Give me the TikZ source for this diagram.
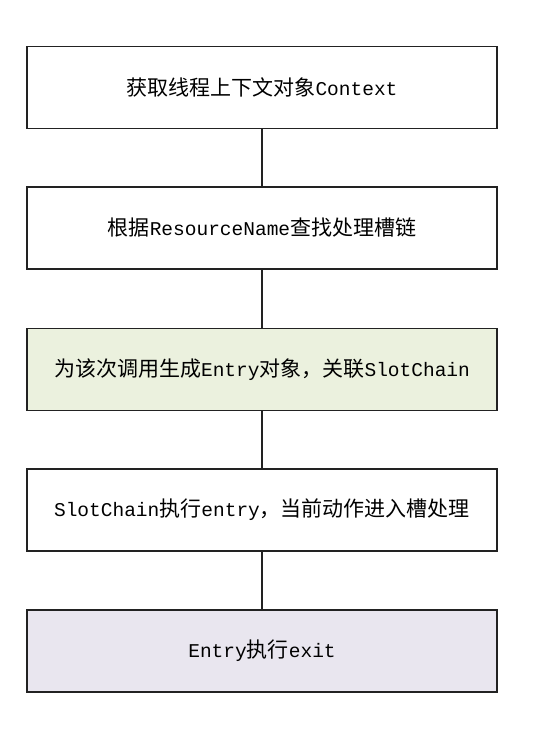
\documentclass[tikz,border=0pt]{standalone}
\usepackage{fontspec}
\newfontfamily\cjk{Noto Sans CJK SC}
\newfontfamily\mono{Liberation Mono}
\definecolor{boxline}{HTML}{222222}
\definecolor{greenfill}{HTML}{EBF1DE}
\definecolor{lavfill}{HTML}{E9E6EF}
\newcommand{\zh}[1]{{\cjk\fontsize{21}{24}\selectfont #1}}
\newcommand{\en}[1]{{\mono\fontsize{19.5}{24}\selectfont #1}}
\begin{document}
\begin{tikzpicture}[x=1pt,y=-1pt,
  flowbox/.style={draw=boxline,line width=1.3pt,minimum width=470pt,minimum height=82pt,inner sep=0pt,anchor=center,fill=white},
  link/.style={draw=boxline,line width=1.3pt}]
\useasboundingbox (0,0) rectangle (538,741);
\fill[white] (0,0) rectangle (538,741);
\node[flowbox] (b1) at (262,87.5) {\zh{获取线程上下文对象}\en{Context}};
\node[flowbox] (b2) at (262,228) {\zh{根据}\en{ResourceName}\zh{查找处理槽链}};
\node[flowbox,fill=greenfill] (b3) at (262,369.5) {\zh{为该次调用生成}\en{Entry}\zh{对象，关联}\en{SlotChain}};
\node[flowbox] (b4) at (262,510) {\en{SlotChain}\zh{执行}\en{entry}\zh{，当前动作进入槽处理}};
\node[flowbox,fill=lavfill] (b5) at (262,651) {\en{Entry}\zh{执行}\en{exit}};
\draw[link] (b1) -- (b2);
\draw[link] (b2) -- (b3);
\draw[link] (b3) -- (b4);
\draw[link] (b4) -- (b5);
\end{tikzpicture}
\end{document}
